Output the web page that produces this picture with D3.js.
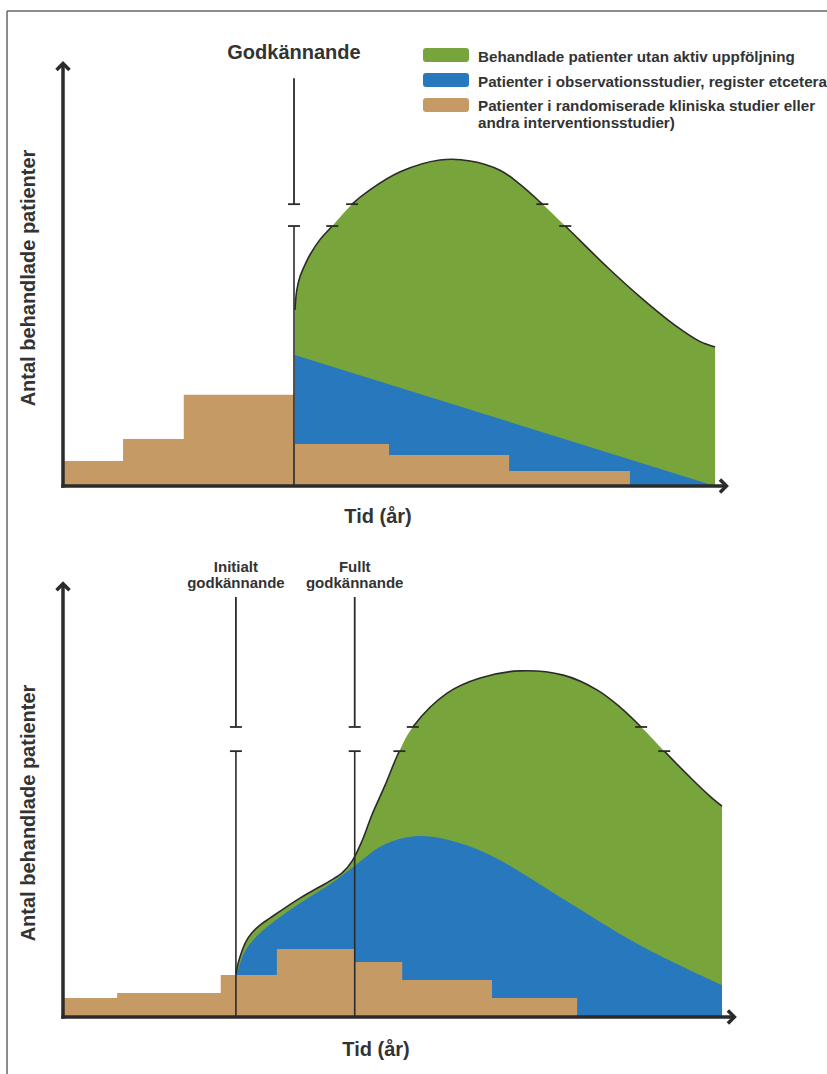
<!DOCTYPE html>
<html><head><meta charset="utf-8">
<script src="https://cdn.jsdelivr.net/npm/d3@7"></script>
<style>
html,body{margin:0;padding:0;background:#fff;}
svg{display:block;font-family:"Liberation Sans", Arial, Helvetica, sans-serif;}
</style></head><body>
<svg id="chart" width="827" height="1074"></svg>
<script>
// ---------- DATA (time units 0-100, patient units 0-100) ----------
const legendLabels = [
  ["Behandlade patienter utan aktiv uppföljning"],
  ["Patienter i observationsstudier, register etcetera"],
  ["Patienter i randomiserade kliniska studier eller", "andra interventionsstudier)"]
];
const yAxisLabel = "Antal behandlade patienter";
const xAxisLabel = "Tid (år)";

// Top panel
const topApprovalX = [35.0];
const topApprovalLabels = [["Godkännande"]];
const topBreak = [61.9, 67.1];
const topLineTop = 97.1;
const topBrownEdges = [0, 9.1, 18.3, 35.0, 49.4, 67.6, 85.9];
const topBrownHeights = [5.95, 11.2, 21.7, 10.0, 7.4, 3.6];
const topBlueX = [35.1, 98.8];
const topBlueY = [31.2, 0];
const topGreenX = [35.15, 35.4, 35.9, 36.7, 37.4, 38.9, 40.8, 43.8, 46.5, 51.1, 57.1, 61.7, 66.2, 69.2, 72.3, 76.1, 82.6, 87.6, 92.7, 96.4, 98.8];
const topGreenY = [41.9, 46.4, 49.8, 52.8, 55.0, 58.6, 61.9, 67.1, 70.5, 74.8, 77.6, 77.4, 75.2, 71.9, 67.6, 61.9, 51.9, 44.8, 38.3, 34.5, 33.1];

// Bottom panel
const botApprovalX = [26.2, 44.2];
const botApprovalLabels = [["Initialt", "godkännande"], ["Fullt", "godkännande"]];
const botBreak = [63.3, 69.05];
const botLineTop = 100;
const botBrownEdges = [0, 8.2, 23.9, 32.4, 44.2, 51.4, 65.0, 77.9];
const botBrownHeights = [4.5, 5.7, 10.0, 16.2, 13.1, 8.8, 4.5];
const botBlueX = [26.2, 26.7, 27.3, 28.3, 29.85, 32.1, 35.9, 40.9, 44.2, 48.0, 51.6, 54.5, 58.6, 64.7, 75.3, 87.4, 99.85];
const botBlueY = [10.0, 12.1, 14.8, 17.4, 20.0, 22.9, 27.1, 32.1, 36.0, 40.5, 42.6, 43.1, 42.1, 38.6, 28.6, 17.1, 7.6];
const botGreenX = [26.2, 26.5, 27.0, 27.7, 28.6, 29.85, 31.4, 35.9, 38.9, 40.45, 42.3, 43.8, 45.3, 46.8, 48.8, 50.9, 53.0, 58.2, 63.2, 69.2, 75.8, 80.9, 84.4, 87.6, 91.1, 95.0, 98.0, 99.85];
const botGreenY = [10.2, 12.6, 15.2, 17.9, 20.0, 21.9, 23.6, 28.3, 31.0, 32.4, 34.3, 37.1, 41.9, 48.1, 55.2, 63.1, 69.05, 77.1, 80.7, 82.4, 81.4, 77.9, 73.8, 69.05, 63.3, 57.1, 52.6, 50.2];

// ---------- STYLE ----------
const GREEN = "#77a53b", BLUE = "#2778bd", BROWN = "#c59a65", DARK = "#2b2b2b", TEXT = "#333";
const svg = d3.select("#chart");

// frame
svg.append("line").attr("x1",7).attr("y1",11).attr("x2",7).attr("y2",1074).attr("stroke","#666").attr("stroke-width",1.5);
svg.append("line").attr("x1",7).attr("y1",11).attr("x2",827).attr("y2",11).attr("stroke","#666").attr("stroke-width",1.5);

function crossings(xs, ys, L) {
  const out = [];
  for (let i = 0; i < xs.length - 1; i++) {
    const a = ys[i], b = ys[i+1];
    if ((a < L && b >= L) || (a >= L && b < L)) {
      const t = (L - a) / (b - a);
      out.push(xs[i] + t * (xs[i+1] - xs[i]));
    }
  }
  return out;
}

function drawPanel(cfg) {
  const g = svg.append("g");
  const x = d3.scaleLinear().domain([0, 100]).range([63, 723]);
  const y = d3.scaleLinear().domain([0, 100]).range([cfg.axisY, cfg.axisY - 420]);
  const curve = d3.curveCatmullRom.alpha(0.5);

  const gpts = cfg.greenX.map((v, i) => [v, cfg.greenY[i]]);
  const bpts = cfg.blueX.map((v, i) => [v, cfg.blueY[i]]);
  const area = d3.area().x(d => x(d[0])).y0(y(0)).y1(d => y(d[1])).curve(curve);
  g.append("path").datum(gpts).attr("d", area).attr("fill", GREEN);
  g.append("path").datum(bpts).attr("d", area).attr("fill", BLUE);

  const brownPts = cfg.brownEdges.map((e, i) => [e, cfg.brownHeights[Math.min(i, cfg.brownHeights.length - 1)]]);
  g.append("path").datum(brownPts)
    .attr("d", d3.area().x(d => x(d[0])).y0(y(0)).y1(d => y(d[1])).curve(d3.curveStepAfter))
    .attr("fill", BROWN);

  // approval lines with break
  const yHi = y(cfg.brk[1]), yLo = y(cfg.brk[0]);
  cfg.approvalX.forEach((ax, k) => {
    const px = x(ax);
    g.append("line").attr("x1", px).attr("x2", px).attr("y1", y(cfg.lineTop)).attr("y2", yHi)
      .attr("stroke", DARK).attr("stroke-width", 1.8);
    g.append("line").attr("x1", px).attr("x2", px).attr("y1", yLo).attr("y2", y(0))
      .attr("stroke", DARK).attr("stroke-width", 1.6);
    [yHi, yLo].forEach(yy => g.append("line").attr("x1", px - 6).attr("x2", px + 6).attr("y1", yy).attr("y2", yy)
      .attr("stroke", DARK).attr("stroke-width", 1.8));
    const lines = cfg.approvalLabels[k];
    const t = g.append("text").attr("text-anchor", "middle").attr("fill", TEXT)
      .attr("font-weight", "bold").attr("font-size", cfg.labelSize);
    lines.forEach((s, j) => t.append("tspan").attr("x", px).attr("y", cfg.labelY + j * cfg.labelLH).text(s));
  });

  // curve stroke with break gap
  const cid = "clip" + cfg.id;
  const cp = svg.append("clipPath").attr("id", cid);
  cp.append("rect").attr("x", 0).attr("y", 0).attr("width", 827).attr("height", yHi);
  cp.append("rect").attr("x", 0).attr("y", yLo).attr("width", 827).attr("height", 1074);
  const line = d3.line().x(d => x(d[0])).y(d => y(d[1])).curve(curve);
  g.append("path").datum(gpts).attr("d", line).attr("fill", "none")
    .attr("stroke", DARK).attr("stroke-width", 1.6).attr("clip-path", `url(#${cid})`);
  cfg.brk.forEach(L => {
    crossings(cfg.greenX, cfg.greenY, L).forEach(cx => {
      g.append("line").attr("x1", x(cx) - 6).attr("x2", x(cx) + 6).attr("y1", y(L)).attr("y2", y(L))
        .attr("stroke", DARK).attr("stroke-width", 1.8);
    });
  });

  // axes
  const ax = g.append("g").attr("stroke", DARK).attr("fill", "none").attr("stroke-width", 3.5);
  const x0 = x(0), y0 = y(0), yTip = y(cfg.yTip), xTip = x(cfg.xTip);
  ax.append("line").attr("x1", x0).attr("x2", x0).attr("y1", y0 + 1.75).attr("y2", yTip + 1);
  ax.append("line").attr("x1", x0 - 1.75).attr("x2", xTip - 1).attr("y1", y0).attr("y2", y0);
  ax.append("path").attr("d", `M${x0 - 6.5},${yTip + 7}L${x0},${yTip + 0.5}L${x0 + 6.5},${yTip + 7}`);
  ax.append("path").attr("d", `M${xTip - 7},${y0 - 6.5}L${xTip - 0.5},${y0}L${xTip - 7},${y0 + 6.5}`);

  // axis titles
  g.append("text").attr("transform", `translate(35,${cfg.yLabelC}) rotate(-90)`)
    .attr("text-anchor", "middle").attr("font-weight", "bold").attr("font-size", 20).attr("fill", TEXT)
    .text(yAxisLabel);
  g.append("text").attr("x", cfg.xLabelX).attr("y", cfg.xLabelY)
    .attr("text-anchor", "middle").attr("font-weight", "bold").attr("font-size", 20).attr("fill", TEXT)
    .text(xAxisLabel);
}

drawPanel({
  id: "T", axisY: 486, greenX: topGreenX, greenY: topGreenY, blueX: topBlueX, blueY: topBlueY,
  brownEdges: topBrownEdges, brownHeights: topBrownHeights, approvalX: topApprovalX,
  approvalLabels: topApprovalLabels, labelSize: 20, labelY: 59, labelLH: 20,
  brk: topBreak, lineTop: topLineTop, yTip: 100.7, xTip: 100.6,
  yLabelC: 278, xLabelX: 378, xLabelY: 523
});
drawPanel({
  id: "B", axisY: 1017, greenX: botGreenX, greenY: botGreenY, blueX: botBlueX, blueY: botBlueY,
  brownEdges: botBrownEdges, brownHeights: botBrownHeights, approvalX: botApprovalX,
  approvalLabels: botApprovalLabels, labelSize: 15, labelY: 572, labelLH: 16,
  brk: botBreak, lineTop: botLineTop, yTip: 103.3, xTip: 101.8,
  yLabelC: 813, xLabelX: 376, xLabelY: 1056
});

// legend
const colors = [GREEN, BLUE, BROWN];
const swatchY = [48, 73, 98];
const textY = [62, 87, 111];
const leg = svg.append("g");
let fs = 15;
const probe = leg.append("text").attr("font-weight", "bold").attr("font-size", fs).text(legendLabels[0][0]);
const w = probe.node().getComputedTextLength();
probe.remove();
fs = fs * 317 / w;
legendLabels.forEach((lines, i) => {
  leg.append("rect").attr("x", 423).attr("y", swatchY[i]).attr("width", 46).attr("height", 14)
    .attr("rx", 3).attr("fill", colors[i]);
  const t = leg.append("text").attr("font-weight", "bold").attr("font-size", fs).attr("fill", TEXT);
  lines.forEach((s, j) => t.append("tspan").attr("x", 478).attr("y", textY[i] + j * 16.5).text(s));
});
</script>
</body></html>
